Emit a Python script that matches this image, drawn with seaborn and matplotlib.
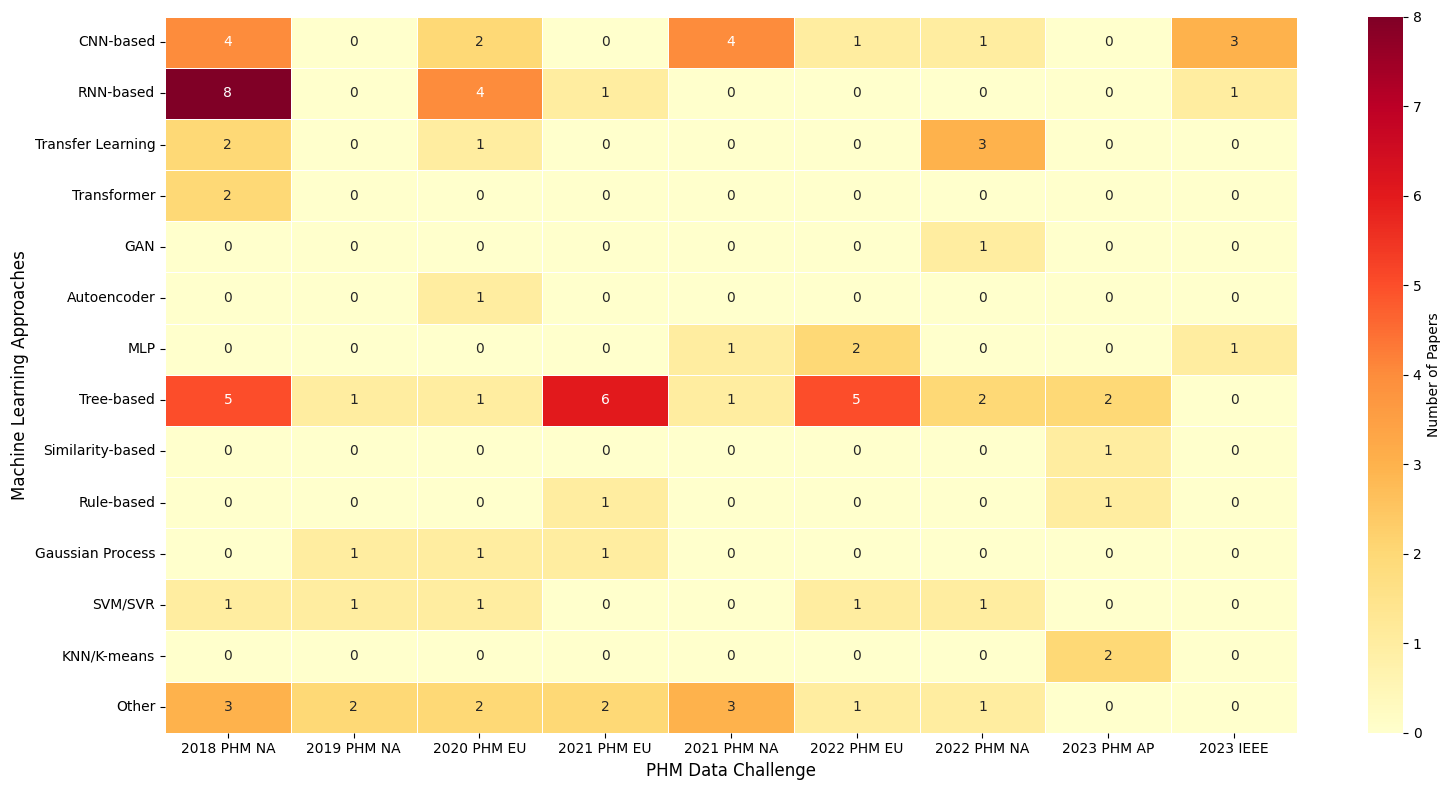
import matplotlib
matplotlib.use("Agg")
import matplotlib.pyplot as plt
import seaborn as sns
import pandas as pd

approaches = ['CNN-based', 'RNN-based', 'Transfer Learning', 'Transformer', 'GAN',
              'Autoencoder', 'MLP', 'Tree-based', 'Similarity-based', 'Rule-based',
              'Gaussian Process', 'SVM/SVR', 'KNN/K-means', 'Other']
challenges = ['2018 PHM NA', '2019 PHM NA', '2020 PHM EU', '2021 PHM EU', '2021 PHM NA',
              '2022 PHM EU', '2022 PHM NA', '2023 PHM AP', '2023 IEEE']

counts = [
    [4, 0, 2, 0, 4, 1, 1, 0, 3],
    [8, 0, 4, 1, 0, 0, 0, 0, 1],
    [2, 0, 1, 0, 0, 0, 3, 0, 0],
    [2, 0, 0, 0, 0, 0, 0, 0, 0],
    [0, 0, 0, 0, 0, 0, 1, 0, 0],
    [0, 0, 1, 0, 0, 0, 0, 0, 0],
    [0, 0, 0, 0, 1, 2, 0, 0, 1],
    [5, 1, 1, 6, 1, 5, 2, 2, 0],
    [0, 0, 0, 0, 0, 0, 0, 1, 0],
    [0, 0, 0, 1, 0, 0, 0, 1, 0],
    [0, 1, 1, 1, 0, 0, 0, 0, 0],
    [1, 1, 1, 0, 0, 1, 1, 0, 0],
    [0, 0, 0, 0, 0, 0, 0, 2, 0],
    [3, 2, 2, 2, 3, 1, 1, 0, 0],
]

df = pd.DataFrame(counts, index=approaches, columns=challenges)

fig = plt.figure(figsize=(14.51, 7.9), dpi=100)
ax = fig.add_axes([0.1137, 0.0725, 0.7801, 0.9063])
cax = fig.add_axes([0.9428, 0.0725, 0.0241, 0.9063])
sns.heatmap(df, annot=True, fmt='d', cmap='YlOrRd', linewidths=0.5, linecolor='white',
            ax=ax, cbar_ax=cax, cbar_kws={'label': 'Number of Papers'})
ax.set_xlabel('PHM Data Challenge', fontsize=12)
ax.set_ylabel('Machine Learning Approaches', fontsize=12)
fig.savefig('out.png', dpi=100)
